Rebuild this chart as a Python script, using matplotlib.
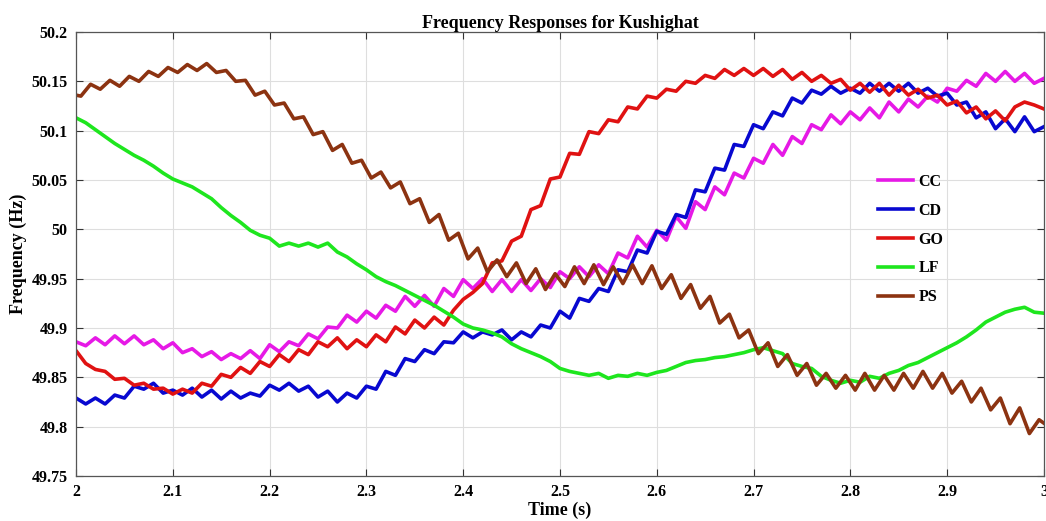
import numpy as np
import matplotlib
matplotlib.use("Agg")
import matplotlib.pyplot as plt

# bus frequency (Hz) sampled every 10 ms; each series has its own start time
labels = ["CC", "CD", "GO", "LF", "PS"]
colors = ["#e619e6", "#0808d0", "#e01212", "#1ee61e", "#8c3311"]

t0 = {"CC": 2.0, "CD": 2.0, "GO": 1.99, "LF": 2.0, "PS": 1.995}
dt = 0.01

cc = [49.886, 49.882, 49.890, 49.883, 49.892, 49.884, 49.892, 49.883, 49.888, 49.879,
      49.885, 49.875, 49.879, 49.871, 49.876, 49.868, 49.874, 49.869, 49.877, 49.869,
      49.883, 49.876, 49.886, 49.882, 49.894, 49.889, 49.901, 49.900, 49.913, 49.906,
      49.917, 49.910, 49.923, 49.917, 49.932, 49.922, 49.933, 49.922, 49.940, 49.932,
      49.949, 49.940, 49.950, 49.937, 49.949, 49.937, 49.949, 49.938, 49.950, 49.941,
      49.957, 49.950, 49.962, 49.952, 49.964, 49.955, 49.976, 49.971, 49.993, 49.982,
      49.999, 49.989, 50.013, 50.001, 50.028, 50.020, 50.043, 50.035, 50.057, 50.052,
      50.072, 50.067, 50.086, 50.075, 50.094, 50.087, 50.106, 50.101, 50.116, 50.107,
      50.119, 50.111, 50.123, 50.113, 50.129, 50.119, 50.132, 50.124, 50.135, 50.129,
      50.143, 50.140, 50.151, 50.145, 50.158, 50.150, 50.160, 50.150, 50.158, 50.148,
      50.153]

cd = [49.829, 49.823, 49.829, 49.823, 49.832, 49.829, 49.841, 49.838, 49.844, 49.834,
      49.837, 49.832, 49.839, 49.830, 49.837, 49.828, 49.836, 49.829, 49.834, 49.831,
      49.842, 49.837, 49.844, 49.836, 49.841, 49.830, 49.836, 49.825, 49.834, 49.829,
      49.841, 49.838, 49.856, 49.852, 49.869, 49.866, 49.878, 49.874, 49.886, 49.885,
      49.896, 49.890, 49.896, 49.893, 49.898, 49.888, 49.896, 49.891, 49.903, 49.900,
      49.917, 49.910, 49.930, 49.927, 49.940, 49.937, 49.959, 49.957, 49.979, 49.976,
      49.998, 49.995, 50.015, 50.012, 50.040, 50.038, 50.062, 50.060, 50.086, 50.084,
      50.106, 50.102, 50.119, 50.115, 50.133, 50.128, 50.141, 50.137, 50.145, 50.138,
      50.143, 50.138, 50.148, 50.140, 50.148, 50.140, 50.148, 50.138, 50.143, 50.135,
      50.138, 50.126, 50.129, 50.113, 50.119, 50.102, 50.112, 50.099, 50.114, 50.099,
      50.104]

go = [49.881, 49.877, 49.864, 49.858, 49.856, 49.848, 49.849, 49.842, 49.844, 49.838,
      49.839, 49.833, 49.838, 49.834, 49.844, 49.841, 49.853, 49.850, 49.860, 49.854,
      49.866, 49.861, 49.873, 49.866, 49.878, 49.873, 49.886, 49.881, 49.890, 49.879,
      49.888, 49.881, 49.893, 49.886, 49.901, 49.894, 49.908, 49.900, 49.911, 49.903,
      49.918, 49.929, 49.936, 49.945, 49.966, 49.968, 49.988, 49.993, 50.020, 50.024,
      50.051, 50.053, 50.077, 50.076, 50.099, 50.097, 50.111, 50.109, 50.124, 50.122,
      50.135, 50.133, 50.142, 50.140, 50.150, 50.148, 50.156, 50.153, 50.162, 50.156,
      50.163, 50.156, 50.163, 50.155, 50.162, 50.152, 50.159, 50.150, 50.156, 50.148,
      50.152, 50.141, 50.148, 50.139, 50.148, 50.136, 50.146, 50.136, 50.142, 50.133,
      50.136, 50.126, 50.130, 50.118, 50.124, 50.112, 50.120, 50.110, 50.124, 50.129,
      50.126, 50.122]

lf = [50.113, 50.108, 50.101, 50.094, 50.087, 50.081, 50.075, 50.070, 50.064, 50.057,
      50.051, 50.047, 50.043, 50.037, 50.031, 50.022, 50.014, 50.007, 49.999, 49.994,
      49.991, 49.983, 49.986, 49.983, 49.986, 49.982, 49.986, 49.977, 49.972, 49.965,
      49.959, 49.952, 49.947, 49.943, 49.938, 49.933, 49.928, 49.923, 49.917, 49.911,
      49.904, 49.900, 49.898, 49.895, 49.891, 49.884, 49.879, 49.875, 49.871, 49.866,
      49.859, 49.856, 49.854, 49.852, 49.854, 49.849, 49.852, 49.851, 49.854, 49.852,
      49.855, 49.857, 49.861, 49.865, 49.867, 49.868, 49.870, 49.871, 49.873, 49.875,
      49.878, 49.880, 49.877, 49.874, 49.864, 49.861, 49.859, 49.851, 49.847, 49.844,
      49.847, 49.845, 49.851, 49.849, 49.854, 49.857, 49.862, 49.865, 49.870, 49.875,
      49.880, 49.885, 49.891, 49.898, 49.906, 49.911, 49.916, 49.919, 49.921, 49.916,
      49.915]

ps = [50.137, 50.135, 50.147, 50.142, 50.151, 50.145, 50.155, 50.150, 50.160, 50.155,
      50.164, 50.159, 50.167, 50.161, 50.168, 50.159, 50.161, 50.150, 50.151, 50.136,
      50.140, 50.126, 50.128, 50.112, 50.114, 50.096, 50.099, 50.080, 50.086, 50.067,
      50.070, 50.052, 50.058, 50.042, 50.048, 50.026, 50.031, 50.007, 50.015, 49.989,
      49.996, 49.970, 49.981, 49.957, 49.969, 49.952, 49.966, 49.945, 49.960, 49.939,
      49.955, 49.942, 49.962, 49.945, 49.964, 49.944, 49.962, 49.945, 49.964, 49.945,
      49.963, 49.940, 49.954, 49.930, 49.944, 49.920, 49.932, 49.905, 49.914, 49.890,
      49.898, 49.874, 49.885, 49.861, 49.873, 49.852, 49.864, 49.842, 49.854, 49.839,
      49.852, 49.837, 49.854, 49.837, 49.852, 49.837, 49.854, 49.839, 49.856, 49.839,
      49.854, 49.834, 49.846, 49.825, 49.839, 49.817, 49.829, 49.803, 49.819, 49.793,
      49.807, 49.800]

series = {"CC": cc, "CD": cd, "GO": go, "LF": lf, "PS": ps}

plt.rcParams["font.family"] = ["Liberation Serif", "DejaVu Serif"]
plt.rcParams["font.weight"] = "bold"

fig = plt.figure(figsize=(10.46, 5.21), dpi=100)
ax = fig.add_axes([0.0727, 0.0864, 0.9253, 0.8522])

for name, col in zip(labels, colors):
    y = np.array(series[name])
    t = t0[name] + dt * np.arange(len(y))
    ax.plot(t, y, color=col, lw=2.6, label=name, solid_joinstyle="round")

ax.set_xlim(2, 3)
ax.set_ylim(49.75, 50.2)
ax.set_xticks(np.arange(2, 3.01, 0.1))
ax.set_xticklabels(["2", "2.1", "2.2", "2.3", "2.4", "2.5", "2.6", "2.7", "2.8", "2.9", "3"])
ax.set_yticks(np.arange(49.75, 50.201, 0.05))
ax.set_yticklabels(["49.75", "49.8", "49.85", "49.9", "49.95", "50", "50.05", "50.1", "50.15", "50.2"])
ax.grid(True, color="#dedede", lw=0.8)
ax.set_axisbelow(True)
ax.tick_params(direction="in", length=5, width=0.8, top=True, right=True,
               labelsize=11.5, color="#333333", pad=6)
for s in ax.spines.values():
    s.set_color("#555555")
    s.set_linewidth(0.9)

ax.set_title("Frequency Responses for Kushighat", fontsize=13, fontweight="bold", pad=3)
ax.set_xlabel("Time (s)", fontsize=13, fontweight="bold", labelpad=1)
ax.set_ylabel("Frequency (Hz)", fontsize=13, fontweight="bold", labelpad=3)

leg = ax.legend(loc="upper left", bbox_to_anchor=(0.8285, 0.68), frameon=False,
                borderaxespad=0, borderpad=0, handlelength=2.2, handletextpad=0.35,
                labelspacing=0.8, prop={"size": 11.5, "weight": "bold"})

fig.savefig("out.png", dpi=100)
